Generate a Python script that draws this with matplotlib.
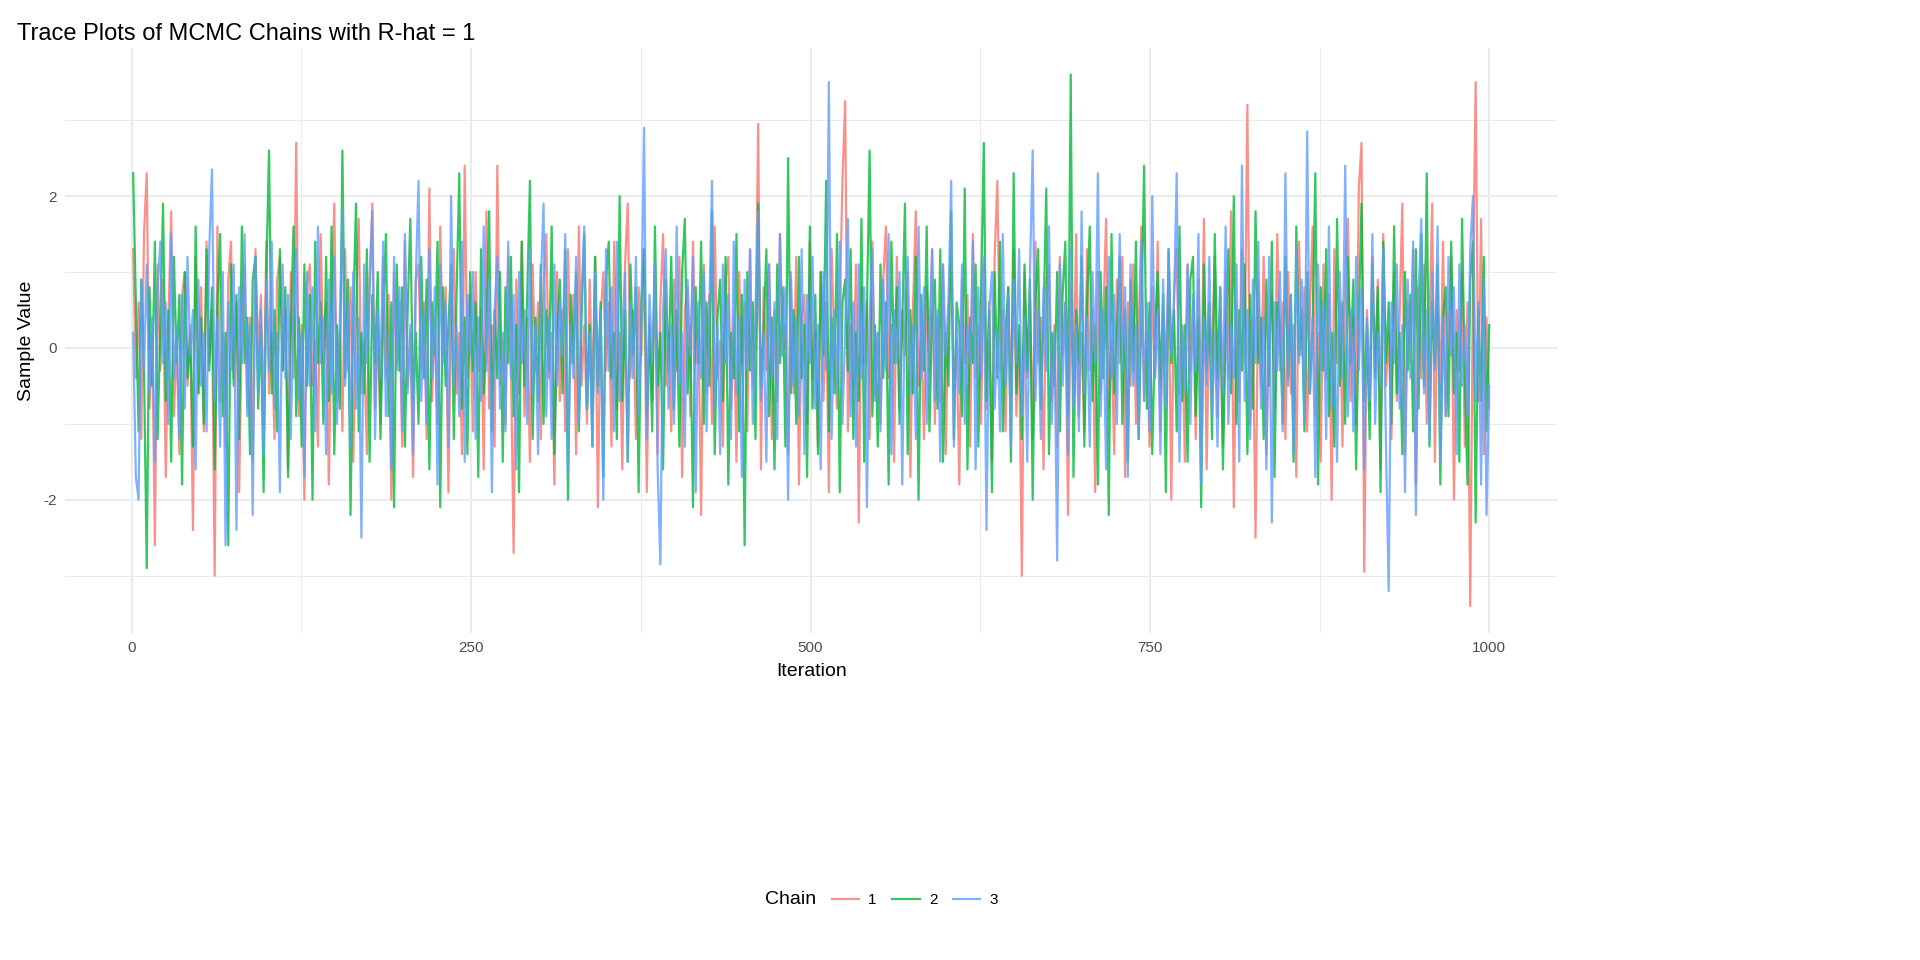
import numpy as np
import matplotlib.pyplot as plt

plt.rcParams['font.family'] = ['Liberation Sans', 'DejaVu Sans']
plt.rcParams['axes.unicode_minus'] = False

# 每条链的取样值（从图上估读，每隔一次迭代取一点）
chain1 = [
    1.3, -0.4, 0.6, -1.2, 1.5, 2.3, -0.8, 0.2, -2.6, 1.1, -0.3, 0.9, -1.7, 0.4, 1.8, -0.9, 0.1, -1.4, 0.7, 1.0, -0.5, 0.3, -2.4, 1.2, -0.6,
    0.8, -1.1, 1.4, -0.2, 0.5, -3.0, 1.6, -0.7, 0.2, -1.3, 0.9, 1.4, -0.4, 0.6, -1.9, 0.3, 1.1, -0.8, 0.4, -1.5, 1.3, -0.1, 0.7, -1.0, 1.4,
    -0.6, 0.2, -1.2, 0.9, 1.2, -0.3, 0.5, -1.6, 1.0, -0.4, 2.7, -0.9, 0.3, -2.0, 0.8, 1.1, -0.5, 0.1, -1.3, 1.5, -0.2, 0.6, -1.8, 0.4, 1.9,
    -0.7, 0.2, -1.1, 1.3, -0.3, 0.8, -1.5, 0.5, 1.7, -0.6, 0.1, -1.4, 0.9, 1.9, -0.8, 0.3, -1.0, 1.2, -0.4, 0.7, -2.0, 1.0, -0.2, 0.6, -1.3,
    1.4, -0.5, 0.2, -1.7, 0.9, 1.1, -0.3, 0.6, -1.2, 2.1, -0.7, 0.4, -1.0, 1.6, -0.1, 0.8, -1.9, 0.5, 1.3, -0.6, 0.2, -1.4, 2.4, -0.4, 0.7,
    -1.1, 1.0, -0.3, 0.5, -1.6, 1.8, -0.8, 0.3, -1.3, 2.4, -0.5, 0.1, -1.0, 1.2, -0.2, -2.7, 0.9, -0.6, 1.4, -0.9, 0.4, -1.5, 1.1, -0.3, 0.6,
    -1.2, 0.8, 1.5, -0.4, 0.2, -1.8, 1.0, -0.7, 0.5, -1.1, 1.3, -0.2, 0.7, -1.4, 1.6, -0.5, 0.3, -1.0, 0.9, -0.6, 1.2, -2.1, 0.4, 1.0, -0.3,
    0.6, -1.3, 1.4, -0.8, 0.2, -1.6, 1.1, 1.9, -0.4, 0.5, -1.2, 0.8, -0.1, 1.3, -1.9, 0.4, -0.7, 1.0, -1.4, 0.6, 1.5, -0.5, 0.2, -1.1, 0.9,
    -0.3, 1.2, -1.7, 0.5, 0.8, -0.9, 1.4, -0.2, 0.3, -2.2, 1.1, -0.6, 0.7, -1.0, 1.6, -0.4, 0.1, -1.3, 0.9, 1.2, -0.8, 0.4, -1.5, 1.0, -0.2,
    0.6, -1.1, 1.3, -0.5, 0.2, 2.95, -1.6, 0.8, -0.3, 1.1, -1.2, 0.5, -0.7, 1.5, -0.1, 0.3, -1.4, 0.9, -0.6, 1.2, -1.8, 0.4, 0.7, -1.0, 1.4,
    -0.4, 0.2, -1.3, 1.0, -0.7, 0.6, -1.9, 1.3, 0.1, -0.8, 0.5, 2.2, 3.25, -1.1, 0.3, -0.5, 1.1, -2.3, 0.8, -0.2, 0.6, -1.2, 1.4, -0.6, 0.2,
    -1.0, 0.9, 1.6, -0.4, 0.3, -1.5, 1.2, -0.8, 0.5, -0.1, 1.0, -1.7, 0.6, 1.8, -0.5, 0.2, -1.2, 0.8, -0.3, 1.3, -1.0, 0.4, -0.7, 1.1, -1.4,
    0.5, 1.2, -0.6, 0.1, -1.8, 0.9, -0.2, 0.7, -1.3, 1.5, -0.4, 0.3, -1.0, 1.1, -0.8, 0.6, -1.5, 1.2, 2.2, -0.3, 0.5, -1.1, 0.8, -0.6, 1.3,
    -0.9, 0.2, -3.0, 1.0, -0.4, 0.7, -1.2, 1.4, -0.2, 0.4, -1.6, 0.9, 1.1, -0.7, 0.3, -1.3, 1.2, -0.1, 0.6, -2.2, 0.8, -0.5, 1.5, -0.9, 0.2,
    -1.1, 1.3, -0.3, 0.5, -1.9, 1.0, -0.6, 0.4, 1.7, -0.8, 0.1, -1.4, 0.9, -0.2, 1.2, -1.7, 0.6, -0.5, 1.1, -1.0, 0.3, 1.6, -0.7, 0.2, -1.3,
    0.8, -0.4, 1.4, -1.1, 0.5, -0.2, 1.0, -2.0, 0.7, 1.3, -0.6, 0.3, -1.5, 1.1, -0.3, 0.6, -1.2, 0.9, -0.8, 1.7, -1.6, 0.4, -0.1, 1.2, -0.9,
    0.5, -1.3, 1.0, -0.4, 1.8, -2.1, 0.6, -0.7, 1.3, -0.2, 3.2, -1.0, 0.4, -2.5, 0.9, -0.5, 1.2, -1.4, 0.2, 0.7, -0.8, 1.5, -0.3, 0.6, -1.2,
    1.0, -0.6, 0.3, -1.7, 1.4, -0.1, 0.8, -1.1, 0.5, 1.6, -0.9, 0.2, -1.5, 1.1, -0.4, 0.7, -2.0, 1.3, -0.2, 0.6, -1.3, 0.9, 1.7, -0.7, 0.4,
    -1.0, 2.1, 2.7, -2.95, 0.5, -0.8, 1.2, -0.3, 0.9, -1.6, 1.5, -0.5, 0.2, -1.2, 1.0, -0.7, 0.4, 1.9, -1.4, 0.6, -0.2, 1.3, -1.8, 0.8, -0.4,
    1.1, -1.0, 0.3, 1.9, -1.5, 0.7, -0.6, 1.4, -0.9, 0.2, 1.2, -2.0, 0.5, -0.3, 1.0, -1.3, 0.6, -3.4, 0.8, 3.5, -0.7, 1.7, -1.4, 0.4, -0.8,
]

chain2 = [
    2.3, 0.6, -1.1, 0.9, -0.3, -2.9, 0.8, -0.5, 1.4, -1.2, 0.3, 1.9, -0.7, 0.5, -1.5, 1.2, -0.2, 0.7, -1.8, 1.0, -0.4, 0.2, -1.3, 1.6, -0.6,
    0.4, -1.0, 1.3, -0.3, 0.8, -1.6, 0.6, 1.5, -0.9, 0.2, -2.6, 1.1, -0.5, 0.7, -1.2, 1.6, -0.2, 0.4, -1.4, 0.9, 1.2, -0.8, 0.3, -1.9, 1.0,
    2.6, -0.6, 0.5, -1.1, 1.3, -0.3, 0.8, -1.7, 0.2, 1.6, -0.9, 0.4, -1.3, 1.1, -0.5, 0.7, -2.0, 1.4, -0.2, 0.6, -1.0, 1.2, -0.7, 1.6, -1.4,
    0.3, -0.8, 2.6, -0.4, 0.9, -2.2, 0.5, 1.9, -1.1, 0.2, -0.6, 1.3, -1.5, 0.7, -0.2, 1.0, -1.2, 0.4, 1.5, -0.9, 0.6, -2.1, 1.1, -0.3, 0.8,
    -1.3, 0.5, 1.7, -0.7, 0.2, -1.0, 1.2, -0.4, 0.9, -1.6, 0.6, -0.1, 1.4, -2.1, 0.8, -0.5, 0.3, 1.1, -1.2, 0.7, 2.3, -0.8, 0.4, -1.4, 1.0,
    -0.3, 0.6, -1.7, 1.3, -0.6, 0.2, 1.8, -1.1, 0.5, -0.4, 1.0, -1.5, 0.8, -0.2, 1.2, -0.9, 0.3, -1.9, 1.4, -0.5, 0.7, 2.2, -1.2, 0.4, -0.7,
    1.1, -1.0, 0.5, -0.3, 1.6, -1.4, 0.2, 0.9, -0.6, 1.3, -2.0, 0.7, -0.2, 1.0, -1.1, 0.4, 1.5, -0.8, 0.3, -1.3, 1.2, -0.5, 0.6, -1.7, 0.9,
    1.4, -0.4, 0.2, -1.2, 2.0, -0.7, 0.5, -1.5, 1.1, -0.1, 0.8, -1.9, 0.6, 1.3, -0.9, 0.3, -1.1, 1.6, -0.5, 0.2, -1.6, 0.9, -0.3, 1.2, -0.8,
    0.5, -1.3, 1.0, 1.7, -0.6, 0.3, -2.1, 0.8, -0.2, 1.4, -1.0, 0.6, -0.5, 1.8, -1.4, 0.4, 0.9, -0.7, 1.2, -1.8, 0.2, -0.4, 1.5, -1.1, 0.7,
    -2.6, 1.0, -0.3, 0.6, -1.2, 1.9, -0.5, 0.2, 1.3, -0.9, 0.4, -1.6, 1.1, -0.2, 0.8, -1.3, 2.5, -0.6, 0.5, -1.0, 1.2, -0.4, 0.3, -1.7, 1.6,
    -0.8, 0.7, -1.4, 1.0, -0.1, 2.2, -1.1, 0.4, -0.6, 1.5, -1.9, 0.6, 0.9, -0.3, 1.3, -1.2, 0.2, -0.7, 1.7, -1.5, 0.5, 2.6, -0.9, 0.3, -1.3,
    1.1, -0.4, 0.6, -1.8, 1.4, -0.2, 0.8, -1.0, 0.3, 1.9, -1.4, 0.5, -0.6, 1.2, -2.0, 0.7, -0.3, 1.6, -1.1, 0.4, 0.9, -0.8, 1.3, -1.5, 0.2,
    -0.5, 1.8, -1.2, 0.6, 0.3, -0.9, 2.1, -1.6, 0.4, -0.2, 1.1, -1.3, 0.7, 2.7, -0.7, 0.5, -1.9, 1.0, -0.4, 1.4, -1.1, 0.2, 0.8, -1.5, 2.3,
    -0.6, 0.3, -1.2, 1.1, -0.3, 0.9, -2.0, 0.6, 1.3, -0.8, 0.4, 2.1, -1.4, 0.2, -0.5, 1.0, -1.1, 0.7, 1.4, -0.9, 3.6, -1.7, 0.5, -0.2, 1.2,
    -1.3, 0.6, 1.6, -0.7, 0.3, -1.8, 1.0, -0.4, 0.8, -2.2, 1.5, -0.6, 0.2, 1.2, -1.0, 0.5, -1.5, 0.9, -0.3, 1.4, -1.2, 0.4, 2.4, -0.8, 0.6,
    -1.4, 0.2, 1.0, -0.5, 0.7, -1.9, 1.3, -0.2, 0.5, -1.1, 1.6, -0.7, 0.3, -1.5, 0.9, 1.2, -0.9, 0.4, -2.1, 1.1, -0.3, 0.6, -1.2, 1.5, -0.4,
    0.8, -1.6, 0.2, 1.3, -0.6, 2.0, -1.0, 0.5, -0.3, 1.1, -1.4, 0.7, -0.8, 1.8, -0.2, 0.4, -1.2, 0.9, -0.5, 1.4, -1.7, 0.6, 0.3, -1.0, 1.2,
    -0.4, 0.7, -1.5, 1.6, -0.1, 0.5, -1.1, 1.0, -0.6, 0.3, 2.3, -1.8, 0.8, -0.3, 1.3, -0.9, 0.2, -1.3, 1.7, -0.5, 0.6, -1.0, 1.2, -0.2, 0.9,
    -1.6, 0.4, 1.9, -0.7, 0.3, -1.2, 1.1, -0.4, 0.8, -1.9, 1.4, -0.2, 0.6, -1.0, 1.6, -0.6, 0.2, -1.4, 1.0, -0.3, 0.7, -1.1, 1.3, -0.8, 1.5,
    -0.5, 2.3, -1.3, 0.6, -0.2, 1.1, -1.8, 0.4, 0.8, -0.9, 1.4, -0.6, 0.2, -1.5, 1.7, -0.4, -1.8, 0.9, 1.4, -2.3, 0.5, -0.7, 1.2, -1.1, 0.3,
]

chain3 = [
    0.2, -1.7, -2.0, 0.9, -0.3, 1.1, -0.6, 0.4, -1.5, 0.8, 1.4, -0.2, 0.6, -1.0, 1.5, -0.4, 0.3, -1.2, 0.7, -0.8, 1.2, -0.1, 0.5, -1.6, 0.9,
    -0.5, 0.2, -1.1, 1.3, 2.35, -0.7, 0.4, -1.3, 1.0, -2.6, 0.6, -0.3, 1.1, -2.4, 0.8, -0.2, 1.5, -0.9, 0.3, -2.2, 1.2, -0.6, 0.5, -1.4, 0.9,
    -0.3, 1.4, -0.8, 0.2, -1.9, 1.1, -0.4, 0.7, -1.2, 0.5, 1.3, -0.7, 0.2, -1.7, 1.0, -0.5, 0.8, -1.1, 1.6, -0.2, 0.4, -1.4, 0.9, -0.6, 1.2,
    -1.0, 0.3, 1.8, -0.5, 0.6, -1.3, 1.0, -0.8, 0.4, -2.5, 1.1, -0.2, 0.7, 1.8, -1.2, 0.5, -0.4, 1.4, -0.9, 0.2, -1.6, 1.2, -0.3, 0.8, -1.1,
    1.5, -0.6, 0.3, -1.4, 0.9, 2.2, -0.7, 0.5, -1.0, 1.3, -0.4, 0.8, -1.8, 1.1, -0.2, 0.6, -1.3, 2.0, -0.5, 0.3, -0.9, 1.4, -1.5, 0.7, -0.1,
    1.0, -1.2, 0.4, -0.7, 1.6, -0.3, 0.9, -1.9, 0.5, 1.2, -0.8, 0.2, -1.1, 1.4, -0.4, 0.7, -1.6, 1.0, -0.2, 0.5, -1.0, 1.3, -0.6, 0.3, -1.4,
    0.8, 1.9, -0.9, 0.4, -1.2, 1.1, -0.5, 0.6, -0.1, 1.5, -1.7, 0.3, -0.4, 1.2, -1.0, 0.7, 1.6, -0.8, 0.2, -1.3, 1.0, -0.6, 0.5, -2.0, 1.3,
    -0.3, 0.8, -1.1, 1.4, -0.7, 0.2, 1.0, -1.5, 0.6, -0.4, 1.2, -0.9, 0.4, 2.9, -1.2, 0.7, -0.2, 1.1, -1.6, -2.85, 0.5, 1.3, -0.8, 0.3, -1.0,
    1.6, -0.5, 0.2, -1.3, 0.9, -0.1, 1.2, -1.9, 0.6, -0.4, 1.0, -1.1, 0.5, 2.2, -0.8, 0.3, -1.4, 1.1, -0.2, 0.7, -1.2, 1.4, -0.6, 0.4, -1.7,
    0.9, -0.3, 1.3, -1.0, 0.5, 1.8, -0.7, 0.2, -1.5, 1.1, -0.4, 0.6, -1.2, 1.5, -0.1, 0.8, -2.0, 1.0, -0.5, 0.4, -0.9, 1.3, -1.4, 0.7, -0.2,
    1.2, -0.8, 0.3, -1.6, 1.0, -0.3, 3.5, -1.2, 0.5, -0.6, 1.4, -1.0, 0.2, 1.7, -0.9, 0.6, -1.3, 1.1, -0.4, 0.8, -2.1, 0.4, 1.3, -0.7, 0.2,
    -1.1, 0.9, -0.3, 1.5, -1.4, 0.5, -0.2, 1.0, -1.8, 0.7, 1.2, -0.6, 0.3, -1.2, 1.6, -0.4, 0.8, -1.0, 0.2, 1.3, -0.7, 0.5, -1.5, 1.1, -0.1,
    0.6, 2.2, -1.3, 0.4, -0.6, 1.1, -1.0, 0.3, -0.2, 1.4, -1.6, 0.8, -0.4, 1.2, -2.4, 0.5, 1.0, -0.8, 0.2, -1.1, 1.5, -0.5, 0.7, -1.3, 0.9,
    -0.2, 1.3, -0.9, 0.4, -1.5, 1.0, 2.6, -0.7, 0.5, -1.2, 0.8, -0.3, 1.6, -1.0, 0.2, -2.8, 1.1, -0.5, 0.6, -1.4, 1.3, -0.8, 0.3, -1.1, 1.8,
    -0.6, 0.4, -1.3, 1.0, -0.2, 2.3, -0.9, 0.5, -1.6, 1.2, -0.4, 0.7, -1.0, 1.5, -0.3, 0.8, -1.7, 1.1, -0.5, 0.3, -1.2, 1.4, -0.7, 0.6, -1.1,
    2.0, -0.4, 0.5, -1.4, 0.9, -0.8, 1.3, -0.1, 0.6, 2.3, -1.5, 0.3, -0.6, 1.1, -1.0, 0.7, -0.3, 1.5, -1.8, 0.4, -0.5, 1.2, -0.9, 0.2, -1.3,
    0.8, -0.6, 1.6, -1.0, 0.3, -0.4, 1.1, -1.5, 2.4, -0.7, 0.5, -1.2, 0.9, -0.2, 1.4, -0.8, 0.4, -1.6, 1.2, -2.3, 0.6, -0.3, 1.0, -1.1, 2.3,
    -0.5, 0.7, -1.4, 1.3, -0.2, 0.9, -1.0, 2.85, -0.6, 0.4, -1.7, 1.1, -0.3, 0.6, -1.2, 1.6, -0.8, 0.2, -1.5, 1.0, -0.4, 2.4, -0.9, 0.5, -1.1,
    1.2, -0.3, 0.8, -1.6, 0.4, -0.7, 1.5, -1.0, 0.2, -0.5, 1.3, -1.3, -3.2, 0.6, -0.2, 1.1, -0.8, 0.3, -1.9, 0.9, -0.4, 1.4, -2.2, 0.7, 1.7,
    -0.6, 0.5, -1.2, 1.0, -0.3, 1.6, -1.5, 0.4, -0.9, 1.2, -0.1, 0.8, -1.4, 1.1, -0.5, 0.3, -0.9, 1.3, 2.0, -0.7, 0.6, -1.8, 0.9, -2.2, -0.5,
]

chains = {'1': chain1, '2': chain2, '3': chain3}
colors = {'1': '#F8766D', '2': '#00BA38', '3': '#619CFF'}

fig = plt.figure(figsize=(19.2, 9.6), dpi=100)
ax = fig.add_axes([0.034, 0.341, 0.777, 0.609])

for name, values in chains.items():
    it = np.linspace(1, 1000, len(values))
    ax.plot(it, values, color=colors[name], alpha=0.8, lw=1.6, label=name)

ax.set_xlim(-49, 1050)
ax.set_ylim(-3.75, 3.95)
ax.set_xticks([0, 250, 500, 750, 1000])
ax.set_xticks([125, 375, 625, 875], minor=True)
ax.set_yticks([-2, 0, 2])
ax.set_yticks([-3, -1, 1, 3], minor=True)
ax.grid(which='major', color='#EBEBEB', lw=1.4)
ax.grid(which='minor', color='#EBEBEB', lw=0.7)
ax.set_axisbelow(True)
for s in ax.spines.values():
    s.set_visible(False)
ax.tick_params(which='both', length=0, labelsize=11, labelcolor='#4D4D4D', pad=6)
ax.set_xlabel('Iteration', fontsize=14, labelpad=6)
ax.set_ylabel('Sample Value', fontsize=14, labelpad=6)

fig.text(0.009, 0.965, 'Trace Plots of MCMC Chains with R-hat = 1', fontsize=17, va='center')

# 图例：标题放在左侧
h, l = ax.get_legend_handles_labels()
fig.legend(h, l, loc='center left', bbox_to_anchor=(0.426, 0.0625), ncol=3, frameon=False,
           fontsize=11, handlelength=1.8, columnspacing=1.0, handletextpad=0.6)
fig.text(0.425, 0.0625, 'Chain', fontsize=14, ha='right', va='center')

fig.savefig('out.png', dpi=100)
